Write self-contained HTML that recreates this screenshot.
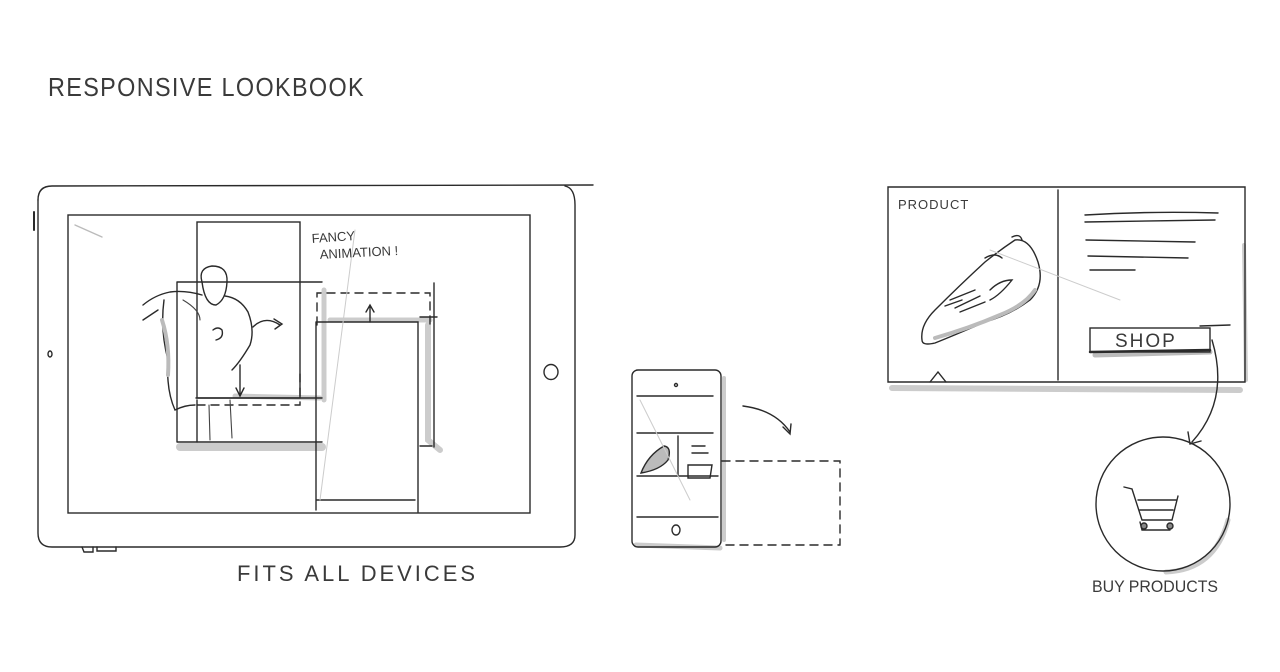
<!DOCTYPE html>
<html><head><meta charset="utf-8"><style>
html,body{margin:0;padding:0;background:#fff;}
svg{display:block}
text{font-family:"Liberation Sans",sans-serif;fill:#3a3a3a;}
</style></head><body>
<svg width="1280" height="672" viewBox="0 0 1280 672" xmlns="http://www.w3.org/2000/svg">
<g fill="none" stroke="#2a2a2a" stroke-width="1.4" stroke-linecap="round">
<!-- Title -->
<text x="48" y="96" font-size="26" letter-spacing="1.5" stroke="none" textLength="317" lengthAdjust="spacingAndGlyphs">RESPONSIVE LOOKBOOK</text>

<!-- Tablet -->
<path d="M38 200 Q38 186 52 186 L593 185"/>
<path d="M565 186 Q575 188 575 205 L575 535 Q575 547 560 547 L52 547 Q38 547 38 533 L38 200"/>
<path d="M34 212 L34 230" stroke-width="2"/>
<path d="M82 547 L84 552 L93 552 L93 547 M97 547 L97 551 L116 551 L116 547"/>
<rect x="68" y="215" width="462" height="298"/>
<ellipse cx="50" cy="354" rx="2" ry="3"/>
<ellipse cx="551" cy="372" rx="7" ry="7.5"/>
<path d="M75 225 L102 237" stroke="#bbb"/>

<!-- tablet content -->
<path d="M180 447 L322 447" stroke="#ccc" stroke-width="8"/>
<path d="M324 290 L324 400" stroke="#ccc" stroke-width="5"/>
<path d="M330 320 L430 320" stroke="#ccc" stroke-width="5"/>
<path d="M428 325 L428 440 L440 450" stroke="#ccc" stroke-width="6"/>
<path d="M235 396 L320 398" stroke="#ccc" stroke-width="5"/>
<rect x="197" y="222" width="103" height="176"/>
<path d="M177 282 L322 282 M177 282 L177 442 M177 442 L322 442 M196 398 L322 398"/>
<path d="M197 400 L197 442"/>
<path d="M197 405 L300 405 L300 370" stroke-dasharray="8 6"/>
<path d="M317 325 L317 293 L430 293 L430 325" stroke-dasharray="8 6"/>
<path d="M316 322 L418 322 L418 512 M316 322 L316 510 M316 500 L415 500"/>
<path d="M434 283 L434 447 M420 317 L437 317 M420 446 L432 446"/>
<path d="M370 322 L370 307 M366 312 L370 305 L374 312"/>
<path d="M240 365 L240 395 M236 388 L240 396 L244 388"/>
<path d="M253 327 Q265 315 280 325 M274 319 L282 324 L275 329"/>
<path d="M355 230 L320 500" stroke="#ccc" stroke-width="1"/>
<!-- figure -->
<path d="M202 282 Q198 268 212 266 Q228 266 227 282 Q226 300 216 305 Q205 305 202 282Z"/>
<path d="M225 296 Q240 298 248 312 Q255 330 250 345 Q240 362 232 370 M213 330 Q218 326 222 330 Q224 338 216 340"/>
<path d="M202 295 Q185 290 170 292 Q155 295 143 305 M164 300 Q160 330 168 360 Q166 390 175 410 Q185 405 195 405 M143 320 L158 310"/>
<path d="M209 405 L210 440 M230 400 L232 438 M183 300 Q200 310 200 320" stroke="#444" stroke-width="1.1"/>
<path d="M162 320 Q170 345 168 375" stroke="#bbb" stroke-width="4"/>

<text x="312" y="243" font-size="13" stroke="none" transform="rotate(-4 312 243)">FANCY</text>
<text x="320" y="259" font-size="13" stroke="none" transform="rotate(-3 320 259)">ANIMATION !</text>
<text x="237" y="581" font-size="22" letter-spacing="3" stroke="none" textLength="241" lengthAdjust="spacingAndGlyphs">FITS ALL DEVICES</text>

<!-- Phone -->
<path d="M636 545 L720 548" stroke="#ccc" stroke-width="5"/>
<path d="M724 378 L724 540" stroke="#ccc" stroke-width="4"/>
<rect x="632" y="370" width="89" height="177" rx="6"/>
<circle cx="676" cy="385" r="1.5"/>
<path d="M637 396 L713 396 M637 433 L713 433 M637 476 L718 476 M637 517 L718 517 M678 436 L678 475"/>
<ellipse cx="676" cy="530" rx="4" ry="5"/>
<path d="M641 473 Q648 455 664 446 Q672 447 668 460 Q660 470 641 473Z" fill="#bbb"/>
<path d="M692 446 L705 446 M692 453 L708 453 M688 465 L712 465 L710 478 L688 478Z"/>
<path d="M722 461 L840 461 L840 545 L722 545" stroke-dasharray="8 6"/>
<path d="M743 406 Q775 410 790 432 M783 427 L790 434 L791 424"/>
<path d="M640 400 L690 500" stroke="#ccc" stroke-width="1"/>

<!-- Product panel -->
<path d="M892 388 L1240 390" stroke="#ccc" stroke-width="6"/>
<path d="M1244 245 L1246 380" stroke="#ccc" stroke-width="4"/>
<path d="M888 187 L1245 187 L1245 382 L888 382Z"/>
<path d="M1058 190 L1058 380"/>
<path d="M930 382 L938 372 L946 382"/>
<text x="898" y="209" font-size="13" letter-spacing="1" stroke="none">PRODUCT</text>
<path d="M1085 215 Q1150 211 1218 213 M1085 222 L1215 220 M1086 240 L1195 242 M1088 256 L1188 258 M1090 270 L1135 270"/>
<path d="M1095 355 L1210 352" stroke="#bbb" stroke-width="5"/>
<rect x="1090" y="328" width="120" height="24"/>
<path d="M1090 352 L1210 350" stroke-width="2.5"/>
<text x="1115" y="347" font-size="19" letter-spacing="2" stroke="none">SHOP</text>
<path d="M1200 326 L1230 325"/>
<!-- shoe -->
<path d="M922 340 Q920 325 935 310 Q960 285 985 262 Q1000 250 1015 240 Q1030 238 1038 262 Q1045 285 1030 300 Q1010 315 985 322 Q955 335 935 343 Q922 346 922 340Z"/>
<path d="M935 338 Q970 328 1000 315 Q1025 305 1035 290" stroke="#bbb" stroke-width="4"/>
<path d="M1012 237 Q1020 233 1022 240 M985 258 Q995 252 1002 258 M990 290 Q1000 280 1012 280 Q1000 295 990 300"/>
<path d="M950 300 L975 290 M955 308 L980 296 M960 312 L985 302 M945 306 L962 300"/>
<path d="M990 250 L1120 300" stroke="#ccc" stroke-width="1"/>
<!-- connector -->
<path d="M1212 340 Q1230 400 1192 442 M1188 432 L1190 444 L1201 441"/>
<!-- circle -->
<path d="M1166 572 Q1215 570 1228 520" stroke="#ccc" stroke-width="5"/>
<circle cx="1163" cy="504" r="67"/>
<path d="M1124 487 L1132 489 L1142 520 L1172 520 L1178 496 M1138 500 L1176 500 M1140 510 L1173 510 M1140 522 L1142 530 L1170 530"/>
<circle cx="1144" cy="526" r="3" fill="#888"/>
<circle cx="1170" cy="526" r="3" fill="#888"/>
<text x="1092" y="592" font-size="17" stroke="none" textLength="126" lengthAdjust="spacingAndGlyphs">BUY PRODUCTS</text>
</g>
</svg>
</body></html>
